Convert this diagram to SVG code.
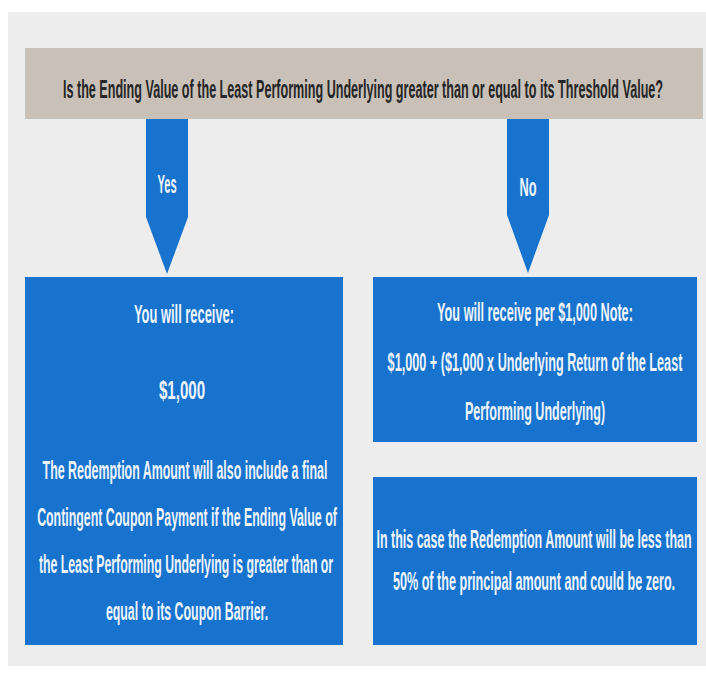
<svg xmlns="http://www.w3.org/2000/svg" width="706" height="673" viewBox="0 0 706 673">
<style>
.blue{fill:#1773cd}
.t{font-family:"Liberation Sans Narrow","Liberation Sans",Arial,sans-serif;font-size:26px;font-weight:bold;fill:#eef4fc;text-anchor:middle}
.title{font-family:"Liberation Sans Narrow","Liberation Sans",Arial,sans-serif;font-size:25px;font-weight:bold;fill:#262626;text-anchor:middle}
</style>
<rect x="0" y="0" width="706" height="673" fill="#ffffff"/>
<rect x="8" y="12" width="698" height="654" fill="#ededed"/>
<g id="question">
<rect x="25" y="48" width="678" height="71" fill="#c9c1b8"/>
<text class="title" transform="translate(363,98) scale(0.55,1)" textLength="1091" lengthAdjust="spacingAndGlyphs">Is the Ending Value of the Least Performing Underlying greater than or equal to its Threshold Value?</text>
</g>
<g id="connectors">
<g id="yes-arrow">
<path class="blue" d="M146 119 H188 V217 L167 274 L146 217 Z"/>
<text class="t" transform="translate(167,193) scale(0.55,1)" textLength="35" lengthAdjust="spacingAndGlyphs">Yes</text>
</g>
<g id="no-arrow">
<path class="blue" d="M507 119 H549 V215 L528 273 L507 215 Z"/>
<text class="t" transform="translate(528,196) scale(0.55,1)" textLength="31" lengthAdjust="spacingAndGlyphs">No</text>
</g>
</g>
<g id="yes-box">
<rect class="blue" x="25" y="277" width="318" height="368"/>
<text class="t" transform="translate(184,323) scale(0.55,1)" textLength="182" lengthAdjust="spacingAndGlyphs">You will receive:</text>
<text class="t" transform="translate(182,399) scale(0.55,1)" textLength="84" lengthAdjust="spacingAndGlyphs">$1,000</text>
<text class="t" transform="translate(185,479) scale(0.55,1)" textLength="518" lengthAdjust="spacingAndGlyphs">The Redemption Amount will also include a final</text>
<text class="t" transform="translate(187,526) scale(0.55,1)" textLength="545" lengthAdjust="spacingAndGlyphs">Contingent Coupon Payment if the Ending Value of</text>
<text class="t" transform="translate(186,573) scale(0.55,1)" textLength="535" lengthAdjust="spacingAndGlyphs">the Least Performing Underlying is greater than or</text>
<text class="t" transform="translate(187,620) scale(0.55,1)" textLength="295" lengthAdjust="spacingAndGlyphs">equal to its Coupon Barrier.</text>
</g>
<g id="no-box">
<rect class="blue" x="373" y="277" width="324" height="165"/>
<text class="t" transform="translate(535,321) scale(0.55,1)" textLength="356" lengthAdjust="spacingAndGlyphs">You will receive per $1,000 Note:</text>
<text class="t" transform="translate(535,371) scale(0.55,1)" textLength="536" lengthAdjust="spacingAndGlyphs">$1,000 + ($1,000 x Underlying Return of the Least</text>
<text class="t" transform="translate(535,420) scale(0.55,1)" textLength="255" lengthAdjust="spacingAndGlyphs">Performing Underlying)</text>
</g>
<g id="no-note">
<rect class="blue" x="373" y="477" width="324" height="168"/>
<text class="t" transform="translate(534,548) scale(0.55,1)" textLength="573" lengthAdjust="spacingAndGlyphs">In this case  the Redemption Amount will be less than</text>
<text class="t" transform="translate(534,590) scale(0.55,1)" textLength="513" lengthAdjust="spacingAndGlyphs">50% of the principal amount and could be zero.</text>
</g>
</svg>
